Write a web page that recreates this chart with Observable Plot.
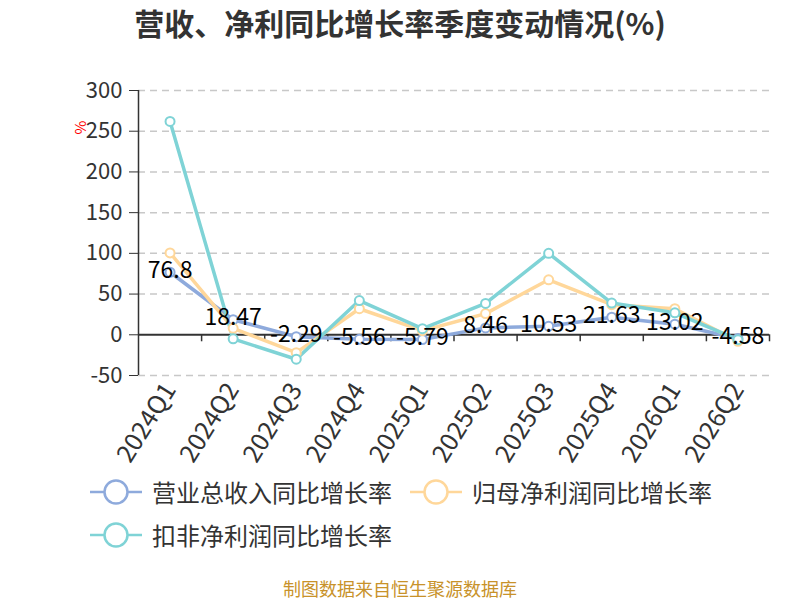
<!DOCTYPE html>
<html>
<head>
<meta charset="utf-8">
<script src="https://cdn.jsdelivr.net/npm/d3@7"></script>
<script src="https://cdn.jsdelivr.net/npm/@observablehq/plot@0.6"></script>
<style>
  html, body { margin: 0; padding: 0; background: #fff; }
  body { position: relative; width: 800px; height: 600px; font-family: "Noto Sans CJK SC", "Noto Sans", sans-serif; overflow: hidden; }
  #title { height: 60px; line-height: 44px; text-align: center; font-size: 30px; font-weight: bold; color: #333; }
  #chart svg { display: block; }
  #legend { position: relative; height: 86px; }
  .item { position: absolute; height: 43px; display: flex; align-items: center; font-size: 24px; color: #333; }
  .item svg { margin-right: 10px; }
  #caption { position: absolute; left: 0; top: 577px; width: 800px; height: 22px; line-height: 22px; text-align: center; font-size: 18px; color: #c8922a; }
</style>
</head>
<body>
<div id="title">营收、净利同比增长率季度变动情况(%)</div>
<div id="chart"></div>
<div id="legend"></div>
<div id="caption">制图数据来自恒生聚源数据库</div>
<script>
const quarters = ["2024Q1","2024Q2","2024Q3","2024Q4","2025Q1","2025Q2","2025Q3","2025Q4","2026Q1","2026Q2"];
const revenueGrowth = [76.8, 18.47, -2.29, -5.56, -5.79, 8.46, 10.53, 21.63, 13.02, -4.58];
const netProfitGrowth = [100.5, 8, -22, 32, 5, 26, 67.5, 37, 32, -8];
const deductedProfitGrowth = [262, -5, -30, 42, 7.5, 38.5, 100, 39, 27, -6];
const seriesNames = ["营业总收入同比增长率", "归母净利润同比增长率", "扣非净利润同比增长率"];
const seriesColors = ["#8eaadc", "#ffd79a", "#7fd3d6"];
const yTicks = [-50, 0, 50, 100, 150, 200, 250, 300];

const rows = [];
[revenueGrowth, netProfitGrowth, deductedProfitGrowth].forEach((vals, s) => {
  vals.forEach((v, i) => rows.push({series: seriesNames[s], i, q: quarters[i], v}));
});
const idx = quarters.map((q, i) => i);
const bounds = quarters.slice(1).map((q, i) => i + 0.5);

const font = "Noto Sans CJK SC, Noto Sans, sans-serif";
const plot = Plot.plot({
  width: 800,
  height: 410,
  marginTop: 30,
  marginBottom: 95,
  marginLeft: 138,
  marginRight: 31,
  style: {fontFamily: font, background: "#fff"},
  x: {type: "linear", domain: [-0.5, 9.5]},
  y: {domain: [-50, 300]},
  color: {domain: seriesNames, range: seriesColors},
  marks: [
    Plot.ruleY(yTicks.filter(d => d !== 0), {stroke: "#c8c8c8", strokeDasharray: "7,5", strokeWidth: 1.5}),
    Plot.axisY({ticks: yTicks, tickSize: 9, tickPadding: 7, fontSize: 22, color: "#333", stroke: "#333", label: null, tickFormat: d => String(d)}),
    Plot.ruleX([-0.5], {y1: -50, y2: 300, stroke: "#333", strokeWidth: 1.5}),
    Plot.ruleY([0], {stroke: "#333", strokeWidth: 2}),
    Plot.ruleX(bounds, {y1: 0, y2: 0, insetBottom: -7, stroke: "#333", strokeWidth: 1.5}),
    Plot.ruleX([9.5], {y1: 0, y2: 0, insetBottom: -7, stroke: "#333", strokeWidth: 1.5}),
    Plot.axisX({ticks: idx, tickFormat: i => quarters[i], tickSize: 0, tickPadding: 10, tickRotate: -58, fontSize: 25, fill: "#333", label: null}),
    Plot.text(["%"], {frameAnchor: "top-left", dx: -63, dy: 44, rotate: -90, fill: "red", fontSize: 15}),
    Plot.line(rows, {x: "i", y: "v", z: "series", stroke: "series", strokeWidth: 3.5}),
    Plot.dot(rows, {x: "i", y: "v", stroke: "series", fill: "#fff", r: 4.5, strokeWidth: 2}),
    Plot.text(rows.filter(d => d.series === seriesNames[0]), {x: "i", y: "v", text: d => String(d.v), fontSize: 23, fill: "#000", dy: -2})
  ]
});
document.getElementById("chart").appendChild(plot);

const legend = document.getElementById("legend");
const pos = [[90, 0], [410, 0], [90, 43]];
seriesNames.forEach((name, s) => {
  const div = document.createElement("div");
  div.className = "item";
  div.style.left = pos[s][0] + "px";
  div.style.top = pos[s][1] + "px";
  div.innerHTML = `<svg width="52" height="28"><line x1="0" y1="14" x2="52" y2="14" stroke="${seriesColors[s]}" stroke-width="2.5"/><circle cx="26" cy="14" r="11.5" fill="#fff" stroke="${seriesColors[s]}" stroke-width="2.5"/></svg><span>${name}</span>`;
  legend.appendChild(div);
});
</script>
</body>
</html>
